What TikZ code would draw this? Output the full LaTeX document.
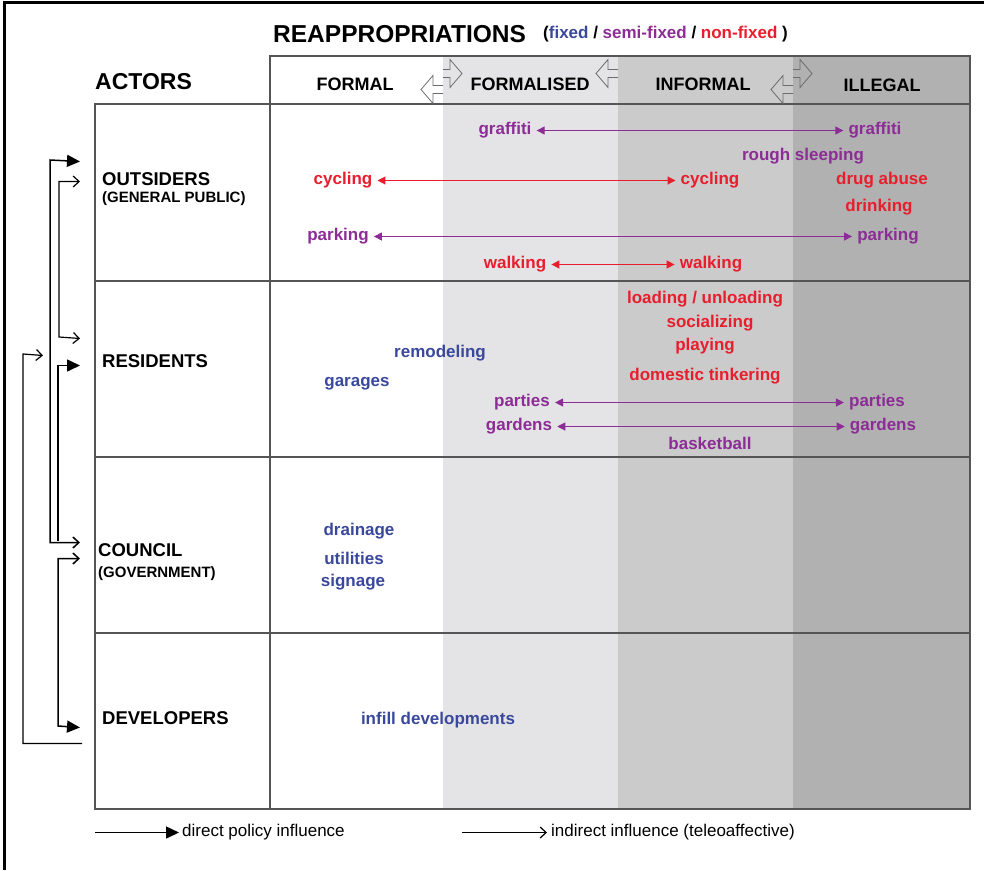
\documentclass[tikz,border=0pt]{standalone}
\usepackage{fontspec}
\setmainfont{Liberation Sans}
\usetikzlibrary{arrows.meta}
\definecolor{fixedblue}{RGB}{58,72,156}
\definecolor{semipurple}{RGB}{140,45,150}
\definecolor{nonfixedred}{RGB}{232,30,45}
\definecolor{gridgray}{RGB}{85,85,85}
\definecolor{formalisedgray}{RGB}{228,228,230}
\definecolor{informalgray}{RGB}{203,203,203}
\definecolor{illegalgray}{RGB}{177,177,177}

\begin{document}
\begin{tikzpicture}[
    x=1pt,
    y=-1pt,
    every node/.style={font=\fontsize{17}{19}\selectfont\bfseries,inner sep=0pt,yshift=-1.5pt},
    fixed/.style={text=fixedblue},
    semi/.style={text=semipurple},
    nonfixed/.style={text=nonfixedred},
    actor/.style={anchor=west,font=\fontsize{18.5}{20}\selectfont\bfseries},
    subactor/.style={anchor=west,font=\fontsize{15}{17}\selectfont\bfseries},
    colhead/.style={font=\fontsize{18}{20}\selectfont\bfseries},
    legend/.style={anchor=west,font=\fontsize{17}{19}\selectfont},
    link/.style={{Triangle[length=8pt,width=8pt]}-{Triangle[length=8pt,width=8pt]},
      line width=1.1pt,shorten <=5pt,shorten >=5pt},
    policy/.style={-{Triangle[length=13pt,width=12pt]},line width=1.5pt},
    indirect/.style={-{Straight Barb[length=6pt,width=11pt]},line width=1.2pt},
    both/.style={{Straight Barb[length=6pt,width=11pt]}-{Straight Barb[length=6pt,width=11pt]},line width=1.2pt},
    mixed/.style={{Straight Barb[length=6pt,width=11pt]}-{Triangle[length=13pt,width=12pt]},line width=1.5pt},
    grid/.style={draw=gridgray,line width=1.2pt},
    blockarrow/.style={draw=gray!85!black,line width=0.8pt,line join=miter},
    pics/shiftleft/.style={code={
      \draw[blockarrow] (0,-4) -- (-10,-4) -- (-10,-14) -- (-22,0) -- (-10,14) -- (-10,4) -- (0,4);}},
    pics/shiftright/.style={code={
      \draw[blockarrow] (0,-4) -- (7,-4) -- (7,-14) -- (19,0) -- (7,14) -- (7,4) -- (0,4);}}
]
  \useasboundingbox (0,0) rectangle (984,870);
  \draw[line width=3pt] (4,870) -- (4,2) -- (990,2);

  % shaded columns
  \fill[formalisedgray] (443,56) rectangle (618,809);
  \fill[informalgray] (618,56) rectangle (793,809);
  \fill[illegalgray] (793,56) rectangle (970,809);

  % table
  \draw[grid] (270,56) rectangle (970,104);
  \draw[grid] (95,104) rectangle (970,809);
  \draw[grid] (270,56) -- (270,809);
  \foreach \y in {281,457,633}
    \draw[grid] (95,\y) -- (970,\y);

  % title
  \node[anchor=west,font=\fontsize{24.5}{26}\selectfont\bfseries] (title) at (273,33) {REAPPROPRIATIONS};
  \node[anchor=west] (types) at (543,33)
    {(\textcolor{fixedblue}{fixed} / \textcolor{semipurple}{semi-fixed} / \textcolor{nonfixedred}{non-fixed} )};

  % column heads
  \node[colhead] (formal) at (355,83) {FORMAL};
  \node[colhead] (formalised) at (530,83) {FORMALISED};
  \node[colhead] (informal) at (703,83) {INFORMAL};
  \node[colhead] (illegal) at (882,84) {ILLEGAL};
  \pic at (443,88) {shiftleft};
  \pic at (443,72) {shiftright};
  \pic at (618,72) {shiftleft};
  \pic at (793,88) {shiftleft};
  \pic at (793,72) {shiftright};

  % actors
  \node[anchor=west,font=\fontsize{23}{25}\selectfont\bfseries] (actors) at (95,80) {ACTORS};
  \node[actor] (outsiders) at (102,178) {OUTSIDERS};
  \node[subactor] (public) at (102,197) {(GENERAL PUBLIC)};
  \node[actor] (residents) at (102,360) {RESIDENTS};
  \node[actor] (council) at (98,549) {COUNCIL};
  \node[subactor] (government) at (98,572) {(GOVERNMENT)};
  \node[actor] (developers) at (102,717) {DEVELOPERS};

  % outsiders
  \node[semi] (graffitiF) at (505,129) {graffiti};
  \node[semi] (graffitiI) at (875,129) {graffiti};
  \node[semi] (sleeping) at (803,155) {rough sleeping};
  \node[nonfixed] (cyclingF) at (343,179) {cycling};
  \node[nonfixed] (cyclingI) at (710,179) {cycling};
  \node[nonfixed] (drugs) at (882,179) {drug abuse};
  \node[nonfixed] (drinking) at (879,206) {drinking};
  \node[semi] (parkingF) at (338,235) {parking};
  \node[semi] (parkingI) at (888,235) {parking};
  \node[nonfixed] (walkingF) at (515,263) {walking};
  \node[nonfixed] (walkingI) at (711,263) {walking};
  \draw[link,semipurple] (graffitiF) -- (graffitiI);
  \draw[link,nonfixedred] (cyclingF) -- (cyclingI);
  \draw[link,semipurple] (parkingF) -- (parkingI);
  \draw[link,nonfixedred] (walkingF) -- (walkingI);

  % residents
  \node[nonfixed] (loading) at (705,298) {loading / unloading};
  \node[nonfixed] (socializing) at (710,322) {socializing};
  \node[nonfixed] (playing) at (705,345) {playing};
  \node[nonfixed] (tinkering) at (705,375) {domestic tinkering};
  \node[fixed] (remodeling) at (440,352) {remodeling};
  \node[fixed] (garages) at (357,382) {garages};
  \node[semi] (partiesF) at (522,401) {parties};
  \node[semi] (partiesI) at (877,401) {parties};
  \node[semi] (gardensF) at (519,425) {gardens};
  \node[semi] (gardensI) at (883,425) {gardens};
  \node[semi] (basketball) at (710,442) {basketball};
  \draw[link,semipurple] (partiesF) -- (partiesI);
  \draw[link,semipurple] (gardensF) -- (gardensI);

  % council and developers
  \node[fixed] (drainage) at (359,530) {drainage};
  \node[fixed] (utilities) at (354,557) {utilities};
  \node[fixed] (signage) at (353,581) {signage};
  \node[fixed] (infill) at (438,719) {infill developments};

  % influences between actors
  \coordinate (outP) at (80,160);
  \coordinate (outI) at (80,180);
  \coordinate (resI) at (80,337);
  \coordinate (resP) at (80,364);
  \coordinate (resD) at (43,354);
  \coordinate (couI) at (80,541);
  \coordinate (couO) at (80,557);
  \coordinate (devP) at (80,726);
  \coordinate (devO) at (82,742);
  \draw[mixed] (couI) -| (50,160) -- (outP);
  \draw[policy] (58,541) |- (resP);
  \draw[both] (outI) -| (59,337) -- (resI);
  \draw[indirect] (devO) -| (23,354) -- (resD);
  \draw[mixed] (couO) -| (58,726) -- (devP);

  % legend
  \coordinate (policyL) at (95,831);
  \coordinate (indirectL) at (462,831);
  \node[legend] (policytext) at (182,831) {direct policy influence};
  \node[legend] (indirecttext) at (551,831) {indirect influence (teleoaffective)};
  \draw[policy,shorten >=3pt] (policyL) -- (policytext.west);
  \draw[indirect,shorten >=4pt] (indirectL) -- (indirecttext.west);
\end{tikzpicture}
\end{document}
